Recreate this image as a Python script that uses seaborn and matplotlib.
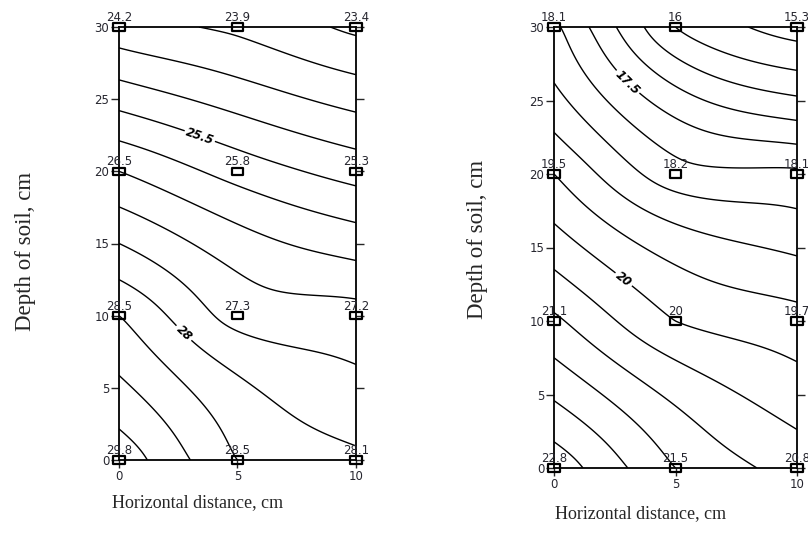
import numpy as np
import pandas as pd
import matplotlib
matplotlib.use("Agg")
import matplotlib.pyplot as plt
from matplotlib.path import Path
import seaborn as sns

# Sampling grid (cm)
horiz = [0, 5, 10]
depth = [0, 10, 20, 30]

# Measured values, rows ordered by depth (0, 10, 20, 30), columns by horizontal distance
left_vals = [
    [29.8, 28.5, 28.1],
    [28.5, 27.3, 27.2],
    [26.5, 25.8, 25.3],
    [24.2, 23.9, 23.4],
]
right_vals = [
    [22.8, 21.5, 20.8],
    [21.1, 20.0, 19.7],
    [19.5, 18.2, 18.1],
    [18.1, 16.0, 15.3],
]

left_levels = np.arange(23.5, 30.0, 0.5)
right_levels = np.arange(15.5, 23.0, 0.5)
left_labelled = [25.5, 28.0]
right_labelled = [17.5, 20.0]

xlabel = "Horizontal distance, cm"
ylabel = "Depth of soil, cm"

sns.set_style("white")
plt.rcParams["font.family"] = ["DejaVu Sans"]

INK = "#26262f"


def krige_grid(px, py, pz, gx, gy, power=1.5):
    """Ordinary kriging with a power variogram (dual form)."""
    pts = np.column_stack([px, py])
    n = len(pts)
    d = np.sqrt(((pts[:, None, :] - pts[None, :, :]) ** 2).sum(-1)) ** power
    A = np.zeros((n + 1, n + 1))
    A[:n, :n] = d
    A[:n, n] = 1
    A[n, :n] = 1
    rhs = np.append(pz, 0.0)
    sol = np.linalg.solve(A, rhs)
    a, b = sol[:n], sol[n]
    G = np.column_stack([gx.ravel(), gy.ravel()])
    dg = np.sqrt(((G[:, None, :] - pts[None, :, :]) ** 2).sum(-1)) ** power
    return (dg @ a + b).reshape(gx.shape)


def panel(fig, rect, vals, levels, labelled, label_pos, ylab_xy, xlab_xy):
    ax = fig.add_axes(rect)
    df = pd.DataFrame(
        [(x, y, vals[i][j]) for i, y in enumerate(depth) for j, x in enumerate(horiz)],
        columns=["x", "y", "v"],
    )
    gx, gy = np.meshgrid(np.linspace(0, 10, 201), np.linspace(0, 30, 301))
    gz = krige_grid(df["x"].values, df["y"].values, df["v"].values, gx, gy)
    plain = [lv for lv in levels if not np.any(np.isclose(lv, labelled))]
    ax.contour(gx, gy, gz, levels=plain, colors="black", linewidths=1.0)
    cs = ax.contour(gx, gy, gz, levels=labelled, colors="black", linewidths=1.0)
    texts = ax.clabel(cs, manual=label_pos, fmt="%g",
                      fontsize=8.5, inline=True, inline_spacing=3)
    for t in texts:
        t.set_fontstyle("italic")
        t.set_fontweight("bold")

    rect_marker = Path([(-1, -0.6), (1, -0.6), (1, 0.6), (-1, 0.6), (-1, -0.6)],
                       [Path.MOVETO, Path.LINETO, Path.LINETO, Path.LINETO, Path.CLOSEPOLY])
    sns.scatterplot(data=df, x="x", y="y", marker=rect_marker, s=72,
                    facecolor="none", edgecolor="black", linewidth=1.6,
                    ax=ax, clip_on=False, zorder=5, legend=False)
    for _, r in df.iterrows():
        ax.annotate(f"{r.v:g}", (r.x, r.y), xytext=(0, 2.2), textcoords="offset points",
                    ha="center", va="bottom", fontsize=8.5, color=INK,
                    annotation_clip=False)

    ax.set_xlim(0, 10)
    ax.set_ylim(0, 30)
    ax.set_xticks(horiz)
    ax.set_yticks([0, 5, 10, 15, 20, 25, 30])
    ax.tick_params(axis="both", direction="out", length=6, width=1.0,
                   labelsize=8.5, labelcolor=INK, pad=1.0)
    ax.tick_params(axis="y", right=True, left=True, labelright=False)
    ax.tick_params(axis="x", bottom=True, top=False)
    ax.set_xlabel("")
    ax.set_ylabel("")
    for s in ax.spines.values():
        s.set_visible(True)
        s.set_color("black")
        s.set_linewidth(1.3)

    fig.text(ylab_xy[0], ylab_xy[1], ylabel, rotation=90, ha="center", va="center",
             fontsize=16.5, family="Liberation Serif")
    fig.text(xlab_xy[0], xlab_xy[1], xlabel, ha="center", va="center",
             fontsize=13, family="Liberation Serif")
    return ax


W, H = 808, 538
fig = plt.figure(figsize=(W / 100, H / 100), dpi=100)
panel(fig, [119 / W, 1 - 460 / H, 237 / W, 433 / H], left_vals, left_levels,
      left_labelled, [(3.4, 22.4), (2.8, 8.9)],
      (26 / W, 1 - 251 / H), (198 / W, 1 - 503 / H))
panel(fig, [554 / W, 1 - 468 / H, 243 / W, 441 / H], right_vals, right_levels,
      right_labelled, [(3.0, 26.2), (2.9, 12.9)],
      (477 / W, 1 - 239 / H), (641 / W, 1 - 514 / H))
fig.savefig("out.png", dpi=100)
